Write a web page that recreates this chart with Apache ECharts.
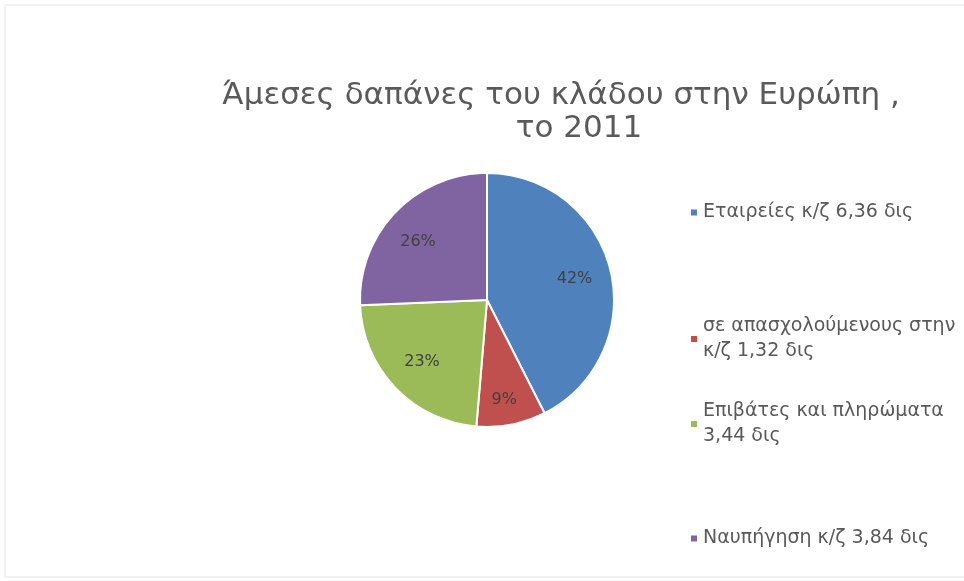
<!DOCTYPE html>
<html><head><meta charset="utf-8">
<script src="https://cdn.jsdelivr.net/npm/echarts@6/dist/echarts.min.js"></script>
<style>html,body{margin:0;padding:0;background:#fff}#c{width:964px;height:581px}</style>
</head><body><div id="c"></div>
<script>
const titleLines = ['Άμεσες δαπάνες του κλάδου στην Ευρώπη ,', 'το 2011'];
const categories = ['Εταιρείες κ/ζ 6,36 δις', 'σε απασχολούμενους στην\nκ/ζ 1,32 δις', 'Επιβάτες και πληρώματα\n3,44 δις', 'Ναυπήγηση κ/ζ 3,84 δις'];
const values = [6.36, 1.32, 3.44, 3.84];
const percentLabels = ['42%', '9%', '23%', '26%'];
const colors = ['#4F81BD', '#C0504D', '#9BBB59', '#8064A2'];

const font = 'DejaVu Sans';
const data = categories.map((n, i) => ({ name: n, value: values[i], itemStyle: { color: colors[i] } }));
const legendTops = [195, 309, 394, 521];
const titleStyle = { fontFamily: font, fontSize: 31, fontWeight: 'normal', color: '#5a5a5a', lineHeight: 36 };
const chart = echarts.init(document.getElementById('c'), null, { renderer: 'canvas' });
chart.setOption({
  animation: false,
  backgroundColor: '#fff',
  title: [
    { text: titleLines[0], left: 561, top: 78, textAlign: 'center', padding: 0, textStyle: titleStyle },
    { text: titleLines[1], left: 579, top: 111, textAlign: 'center', padding: 0, textStyle: titleStyle }
  ],
  legend: categories.map((n, i) => ({
    data: [n], orient: 'vertical', left: 684, top: legendTops[i],
    icon: 'rect', itemWidth: 8, itemHeight: 8, itemGap: 0,
    selectedMode: false,
    textStyle: { fontFamily: font, fontSize: 19, color: '#595959', lineHeight: 25 }
  })),
  graphic: [{
    type: 'rect', shape: { x: 5, y: 5, width: 970, height: 572 },
    style: { fill: 'none', stroke: '#e6e6e6', lineWidth: 1 }, silent: true, z: -1
  }],
  series: [{
    type: 'pie', center: [487, 300], radius: [0, 127], startAngle: 90, clockwise: true,
    data: data,
    itemStyle: { borderColor: '#fff', borderWidth: 2 },
    label: { show: false }, labelLine: { show: false }, silent: true
  }, {
    type: 'pie', center: [487, 300], radius: [0, 174], startAngle: 90, clockwise: true,
    data: data.map(d => ({ name: d.name, value: d.value })),
    itemStyle: { color: 'rgba(0,0,0,0)' },
    label: {
      show: true, position: 'inside', fontFamily: font, fontSize: 16, color: '#404040',
      formatter: p => percentLabels[p.dataIndex]
    },
    labelLayout: p => (p.dataIndex === 1 ? { dy: 12 } : p.dataIndex === 3 ? { dx: -4, dy: 4 } : {}),
    labelLine: { show: false }, silent: true, z: 3
  }]
});
</script></body></html>
